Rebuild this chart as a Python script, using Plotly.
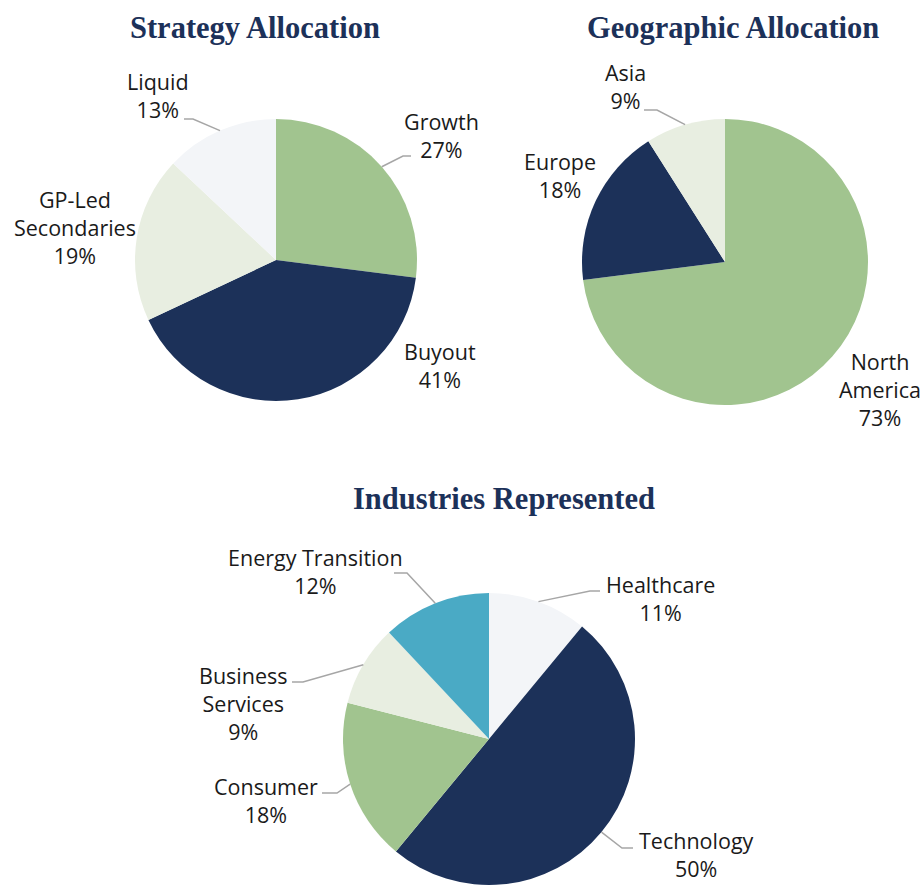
import math
import plotly.graph_objects as go

W, H = 924, 886

# ---------------- data ----------------
strategy_labels = ["Growth", "Buyout", "GP-Led<br>Secondaries", "Liquid"]
strategy_values = [27, 41, 19, 13]

geo_labels = ["North<br>America", "Europe", "Asia"]
geo_values = [73, 18, 9]

industry_labels = ["Healthcare", "Technology", "Consumer", "Business<br>Services", "Energy Transition"]
industry_values = [11, 50, 18, 9, 12]

titles = ["Strategy Allocation", "Geographic Allocation", "Industries Represented"]

# ---------------- styles ----------------
NAVY = "#1c3159"
GREEN = "#a1c48f"
LGREEN = "#e8eee1"
LGRAY = "#f3f5f8"
TEAL = "#4aaac5"
LEADER = "#a6a6a6"
LABEL_FONT = dict(family="Open Sans", size=21.5, color="#1a1a1a")
TITLE_FONT = dict(family="Liberation Serif", size=30.5, color=NAVY, weight="bold")

pies = [
    dict(labels=strategy_labels, values=strategy_values,
         colors=[GREEN, NAVY, LGREEN, LGRAY],
         cx=276, cy=260, r=141, title=titles[0], title_pos=(255, 28),
         label_pos=[(441, 135), (440, 365), (75, 227), (158, 96)],
         leaders=[((403, 156), (411, 156)), None, None, ((193, 119), (184, 119))]),
    dict(labels=geo_labels, values=geo_values,
         colors=[GREEN, NAVY, LGREEN],
         cx=725, cy=262, r=143, title=titles[1], title_pos=(733, 28),
         label_pos=[(880, 389), (560, 175), (625, 87)],
         leaders=[None, None, ((657, 110), (644, 110))]),
    dict(labels=industry_labels, values=industry_values,
         colors=[LGRAY, NAVY, GREEN, LGREEN, TEAL],
         cx=489, cy=739, r=146, title=titles[2], title_pos=(504, 499),
         label_pos=[(660, 598), (696, 854), (266, 800), (243, 703), (315, 571)],
         leaders=[((590, 591), (600, 591)), ((622, 848), (633, 848)),
                  ((337, 793), (322, 793)), ((303, 682), (292, 682)),
                  ((407, 573), (394, 573))]),
]


def px(x):
    return x / W


def py(y):
    return 1 - y / H


fig = go.Figure()
annotations = []
shapes = []

for p in pies:
    cx, cy, r = p["cx"], p["cy"], p["r"]
    fig.add_trace(go.Pie(
        labels=p["labels"], values=p["values"], sort=False, direction="clockwise",
        rotation=0, marker=dict(colors=p["colors"], line=dict(width=0)),
        textinfo="none", hoverinfo="label+percent", showlegend=False,
        domain=dict(x=[px(cx - r), px(cx + r)], y=[py(cy + r), py(cy - r)]),
    ))
    annotations.append(dict(text=p["title"], x=px(p["title_pos"][0]), y=py(p["title_pos"][1]),
                            xref="paper", yref="paper", showarrow=False,
                            xanchor="center", yanchor="middle", font=TITLE_FONT))
    total = sum(p["values"])
    cum = 0
    for lab, val, lpos, lead in zip(p["labels"], p["values"], p["label_pos"], p["leaders"]):
        mid = (cum + val / 2) / total * 2 * math.pi
        cum += val
        pct = round(val / total * 100)
        annotations.append(dict(text=f"{lab}<br>{pct}%", x=px(lpos[0]), y=py(lpos[1]),
                                xref="paper", yref="paper", showarrow=False,
                                xanchor="center", yanchor="middle", font=LABEL_FONT))
        if lead:
            sx = cx + r * math.sin(mid)
            sy = cy - r * math.cos(mid)
            (ex, ey), (tx, ty) = lead
            path = f"M {px(sx)} {py(sy)} L {px(ex)} {py(ey)} L {px(tx)} {py(ty)}"
            shapes.append(dict(type="path", path=path, xref="paper", yref="paper",
                               line=dict(color=LEADER, width=1.5)))

fig.update_layout(width=W, height=H, margin=dict(l=0, r=0, t=0, b=0),
                  paper_bgcolor="white", plot_bgcolor="white",
                  annotations=annotations, shapes=shapes)

fig.write_html("out.html", config={"displayModeBar": False},
               post_script="document.body.style.margin='0';")
